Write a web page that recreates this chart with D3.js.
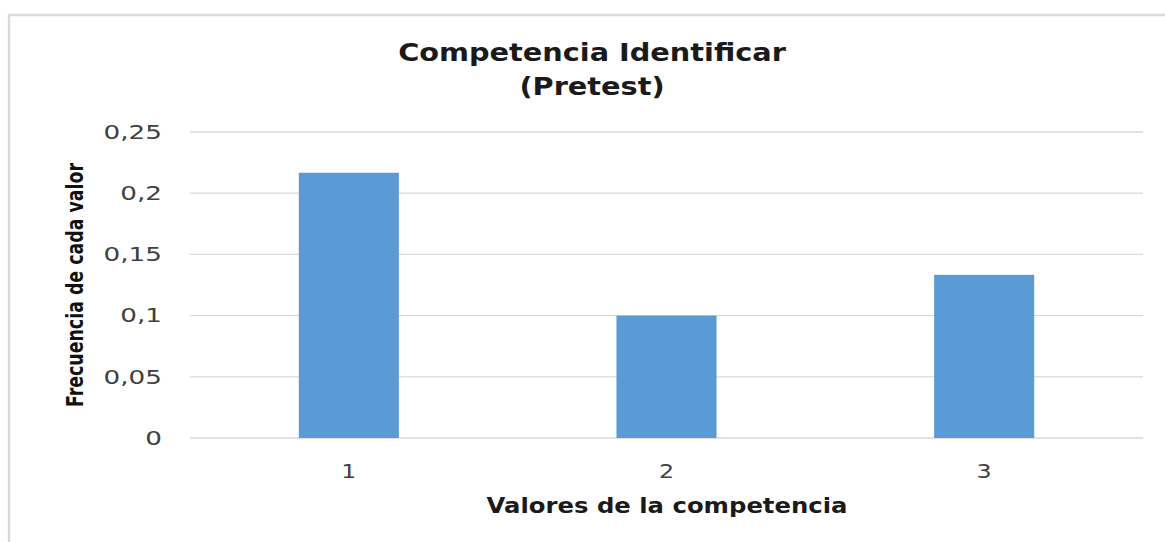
<!DOCTYPE html>
<html><head><meta charset="utf-8">
<script src="https://cdn.jsdelivr.net/npm/d3@7"></script>
<style>body{margin:0;background:#fff;}svg{display:block;}</style>
</head><body>
<script>
const categories = ["1", "2", "3"];
const values = [0.2167, 0.1, 0.1333];
const yTicks = [0, 0.05, 0.1, 0.15, 0.2, 0.25];
const titleLines = ["Competencia Identificar", "(Pretest)"];
const xTitle = "Valores de la competencia";
const yTitle = "Frecuencia de cada valor";

(function () {
const W = 1165, H = 542;
const svg = d3.select("body").append("svg").attr("width", W).attr("height", H);
svg.append("rect").attr("width", W).attr("height", H).attr("fill", "#fff");
// outer chart border (left & top visible)
svg.append("path").attr("d", "M9,542 V15 H1165").attr("fill", "none")
  .attr("stroke", "#d9d9d9").attr("stroke-width", 2.5);

const pL = 190, pR = 1143, pT = 132, pB = 438;
const x = d3.scaleBand().domain(categories).range([pL, pR]).paddingInner(0.685).paddingOuter(0.3425);
const y = d3.scaleLinear().domain([0, 0.25]).range([pB, pT]);
const fmt = v => d3.format("")(v).replace(".", ",");
const stretch = (sel, k) => sel.each(function () {
  const w = this.getComputedTextLength();
  d3.select(this).attr("textLength", w * k).attr("lengthAdjust", "spacingAndGlyphs");
});

// gridlines
svg.append("g").selectAll("line").data(yTicks).join("line")
  .attr("x1", pL).attr("x2", pR)
  .attr("y1", d => y(d)).attr("y2", d => y(d))
  .attr("stroke", "#d9d9d9").attr("stroke-width", 1.3);

// y tick labels
svg.append("g").selectAll("text").data(yTicks).join("text")
  .attr("x", 162).attr("y", d => y(d)).attr("dy", "0.36em")
  .attr("text-anchor", "end").attr("fill", "#404040")
  .style("font-family", "'DejaVu Sans', sans-serif").style("font-size", "19px")
  .text(d => fmt(d))
  .call(stretch, 1.38);

// bars
svg.append("g").selectAll("rect").data(values).join("rect")
  .attr("x", (d, i) => x(categories[i])).attr("width", x.bandwidth())
  .attr("y", d => y(d)).attr("height", d => y(0) - y(d))
  .attr("fill", "#5b9bd5");

// x tick labels
svg.append("g").selectAll("text").data(categories).join("text")
  .attr("x", d => x(d) + x.bandwidth() / 2).attr("y", 478)
  .attr("text-anchor", "middle").attr("fill", "#404040")
  .style("font-family", "'DejaVu Sans', sans-serif").style("font-size", "19px")
  .text(d => d)
  .call(stretch, 1.25);

// title
svg.append("g").selectAll("text").data(titleLines).join("text")
  .attr("x", 592).attr("y", (d, i) => 61 + i * 34)
  .attr("text-anchor", "middle").attr("fill", "#1a1a1a")
  .style("font-family", "'DejaVu Sans', sans-serif").style("font-size", "25px").style("font-weight", "bold")
  .text(d => d)
  .call(stretch, 1.15);

// x axis title
svg.append("text").attr("x", 667).attr("y", 513).attr("text-anchor", "middle")
  .attr("fill", "#1a1a1a")
  .style("font-family", "'DejaVu Sans', sans-serif").style("font-size", "21px").style("font-weight", "bold")
  .attr("textLength", 361).attr("lengthAdjust", "spacingAndGlyphs")
  .text(xTitle);

// y axis title
svg.append("text").attr("transform", "translate(83,285) rotate(-90)")
  .attr("text-anchor", "middle").attr("fill", "#111")
  .style("font-family", "'DejaVu Sans Condensed', 'DejaVu Sans', sans-serif").style("font-size", "23px").style("font-weight", "bold")
  .attr("textLength", 244).attr("lengthAdjust", "spacingAndGlyphs")
  .text(yTitle);
})();
</script>
</body></html>
